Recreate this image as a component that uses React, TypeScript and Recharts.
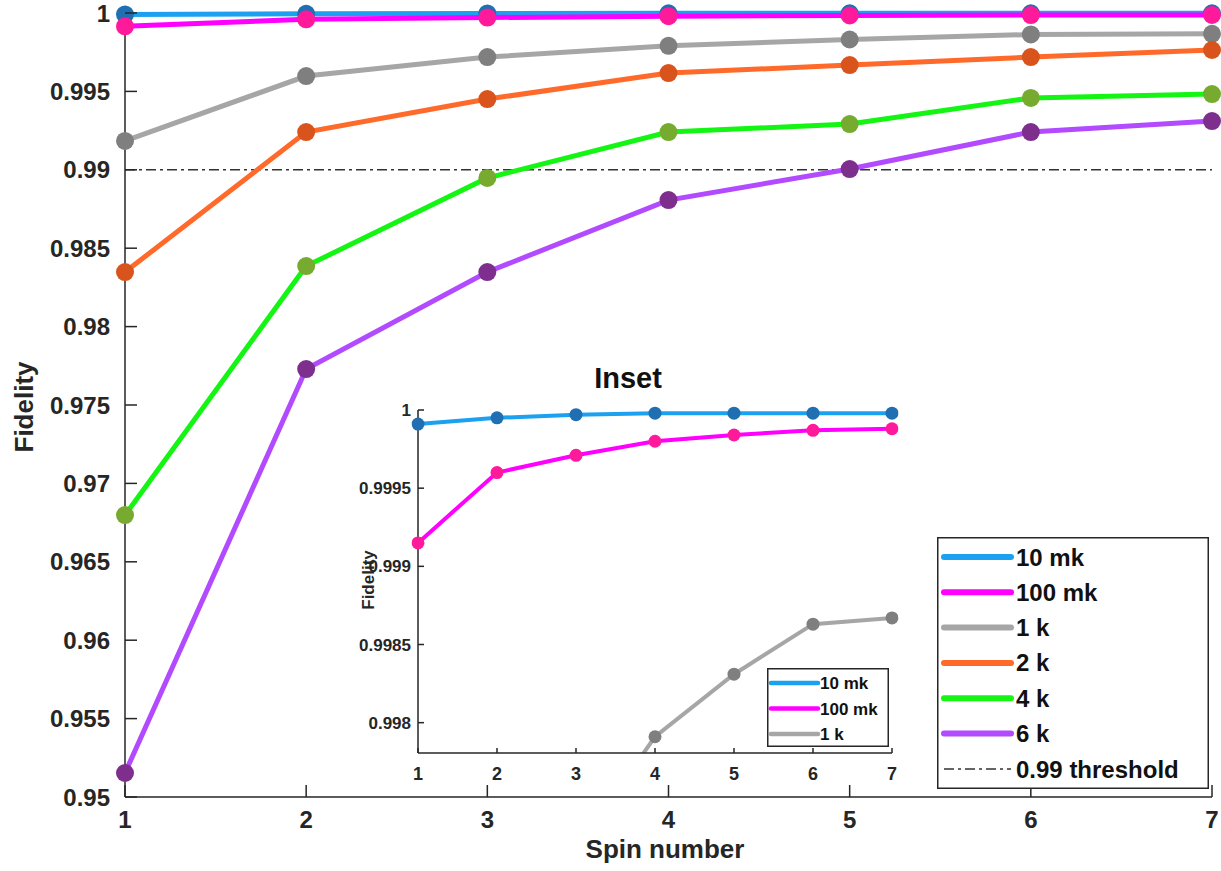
import React from 'react';
import { LineChart, Line, XAxis, YAxis, ReferenceLine, Legend } from 'recharts';

// ---- data ----
const spins = [1, 2, 3, 4, 5, 6, 7];
const fid10mK = [0.99991, 0.99995, 0.99997, 0.99998, 0.99998, 0.99998, 0.99998];
const fid100mK = [0.99915, 0.9996, 0.99971, 0.9998, 0.99984, 0.99987, 0.99988];
const fid1K = [0.99184, 0.99598, 0.99719, 0.99791, 0.99831, 0.99863, 0.99867];
const fid2K = [0.98348, 0.99241, 0.99451, 0.99617, 0.99668, 0.99719, 0.99764];
const fid4K = [0.96798, 0.98386, 0.98948, 0.99241, 0.99292, 0.99458, 0.99483];
const fid6K = [0.95153, 0.97729, 0.98348, 0.98807, 0.99005, 0.99241, 0.99311];
const threshold = 0.99;
const mainYTicks = [0.95, 0.955, 0.96, 0.965, 0.97, 0.975, 0.98, 0.985, 0.99, 0.995, 1];
const insetYTicks = [0.998, 0.9985, 0.999, 0.9995, 1];
const seriesKeys = ['k10mK', 'k100mK', 'k1K', 'k2K', 'k4K', 'k6K'];
const seriesNames = ['10 mk', '100 mk', '1 k', '2 k', '4 k', '6 k'];
const thresholdName = '0.99 threshold';
const lineColors = ['#1ba1ef', '#ff00ff', '#a6a6a6', '#ff6a2b', '#14f514', '#b24bff'];
const markerColors = ['#1f6fb2', '#ff1a9c', '#7f7f7f', '#d9541c', '#77ab30', '#7e2f8e'];
const seriesValues = [fid10mK, fid100mK, fid1K, fid2K, fid4K, fid6K];

const rows = spins.map((s, i) => {
  const r: any = { spin: s };
  seriesKeys.forEach((k, j) => (r[k] = seriesValues[j][i]));
  return r;
});

const AX = '#262626';
const FONT = '"Liberation Sans", Arial, Helvetica, sans-serif';
const fmt = (v: number) => String(Number(Number(v).toFixed(5)));

function leftTick(len: number, gap: number, fs: number, dy: number) {
  return (props: any) => {
    const { x, y, payload } = props;
    return (
      <g>
        <line x1={x} y1={y} x2={x + len} y2={y} stroke={AX} strokeWidth={1.5} />
        <text x={x - gap} y={y + dy} textAnchor="end" fontSize={fs} fontWeight={700} fontFamily={FONT} fill={AX}>
          {fmt(payload.value)}
        </text>
      </g>
    );
  };
}
function rightTick(len: number) {
  return (props: any) => {
    const { x, y } = props;
    return <line x1={x} y1={y} x2={x - len} y2={y} stroke={AX} strokeWidth={1.5} />;
  };
}
function bottomTick(len: number, dy: number, fs: number) {
  return (props: any) => {
    const { x, y, payload } = props;
    return (
      <g>
        <line x1={x} y1={y} x2={x} y2={y - len} stroke={AX} strokeWidth={1.5} />
        <text x={x} y={y + dy} textAnchor="middle" fontSize={fs} fontWeight={700} fontFamily={FONT} fill={AX}>
          {fmt(payload.value)}
        </text>
      </g>
    );
  };
}
function topTick(len: number) {
  return (props: any) => {
    const { x, y } = props;
    return <line x1={x} y1={y} x2={x} y2={y + len} stroke={AX} strokeWidth={1.5} />;
  };
}

const MainLegend = () => (
  <svg width={272} height={252} style={{ display: 'block' }}>
    <rect x={0.75} y={0.75} width={270.5} height={250.5} fill="#fff" stroke={AX} strokeWidth={1.5} />
    {seriesNames.map((n, i) => {
      const y = 20 + i * 35.3;
      return (
        <g key={n}>
          <line x1={7} x2={74} y1={y} y2={y} stroke={lineColors[i]} strokeWidth={6} strokeLinecap="round" />
          <text x={79} y={y + 8.5} fontSize={24} fontWeight={700} fontFamily={FONT} fill="#111">{n}</text>
        </g>
      );
    })}
    <line x1={7} x2={74} y1={232} y2={232} stroke="#333" strokeWidth={1.5} strokeDasharray="10 4 3 4" />
    <text x={79} y={240.5} fontSize={24} fontWeight={700} fontFamily={FONT} fill="#111">{thresholdName}</text>
  </svg>
);

const InsetLegend = () => (
  <svg width={122} height={79} style={{ display: 'block' }}>
    <rect x={0.75} y={0.75} width={120.5} height={77.5} fill="#fff" stroke={AX} strokeWidth={1.5} />
    {seriesNames.slice(0, 3).map((n, i) => {
      const y = 15 + i * 25.5;
      return (
        <g key={n}>
          <line x1={4} x2={51} y1={y} y2={y} stroke={lineColors[i]} strokeWidth={4.5} strokeLinecap="round" />
          <text x={53} y={y + 6} fontSize={17} fontWeight={700} fontFamily={FONT} fill="#111">{n}</text>
        </g>
      );
    })}
  </svg>
);

export default function App() {
  return (
    <div style={{ position: 'absolute', left: 0, top: 0, width: 1221, height: 871, background: '#fff' }}>
      <div style={{ position: 'absolute', left: 0, top: 0 }}>
        <LineChart width={1221} height={871} data={rows} margin={{ top: 13, right: 9, bottom: 0, left: 0 }}>
          <XAxis
            dataKey="spin"
            type="number"
            domain={[1, 7]}
            ticks={spins}
            interval={0}
            height={74}
            tickSize={0}
            tickMargin={0}
            tickLine={false}
            axisLine={{ stroke: AX, strokeWidth: 1.5 }}
            tick={bottomTick(12, 31, 24)}
          />
          <XAxis
            xAxisId="top"
            orientation="top"
            dataKey="spin"
            type="number"
            domain={[1, 7]}
            ticks={spins}
            interval={0}
            height={0}
            tickSize={0}
            tickMargin={0}
            tickLine={false}
            axisLine={{ stroke: AX, strokeWidth: 1.5 }}
            tick={topTick(12)}
          />
          <YAxis
            type="number"
            domain={[0.95, 1]}
            ticks={mainYTicks}
            interval={0}
            width={125}
            tickSize={0}
            tickMargin={0}
            tickLine={false}
            axisLine={{ stroke: AX, strokeWidth: 1.5 }}
            tick={leftTick(12, 15, 24, 8.5)}
          />
          <YAxis
            yAxisId="right"
            orientation="right"
            type="number"
            domain={[0.95, 1]}
            ticks={mainYTicks}
            interval={0}
            width={0}
            tickSize={0}
            tickMargin={0}
            tickLine={false}
            axisLine={{ stroke: AX, strokeWidth: 1.5 }}
            tick={rightTick(12)}
          />
          <ReferenceLine y={threshold} stroke="#333" strokeWidth={1.5} strokeDasharray="10 4 3 4" ifOverflow="visible" />
          {seriesKeys.map((k, i) => (
            <Line
              key={k}
              dataKey={k}
              name={seriesNames[i]}
              stroke={lineColors[i]}
              strokeWidth={5}
              dot={{ r: 9, fill: markerColors[i], stroke: markerColors[i], strokeWidth: 0 }}
              activeDot={false}
              isAnimationActive={false}
            />
          ))}
          <Legend
            layout="vertical"
            align="center"
            verticalAlign="middle"
            content={MainLegend}
            wrapperStyle={{ left: 937, top: 537, width: 272, height: 252, margin: 0 }}
          />
          <text x={665} y={858} textAnchor="middle" fontSize={26} fontWeight={700} fontFamily={FONT} fill={AX}>
            Spin number
          </text>
          <text
            x={0}
            y={0}
            transform="translate(33,407) rotate(-90)"
            textAnchor="middle"
            fontSize={26}
            fontWeight={700}
            fontFamily={FONT}
            fill={AX}
          >
            Fidelity
          </text>
        </LineChart>
      </div>
      <div style={{ position: 'absolute', left: 330, top: 360 }}>
        <LineChart width={580} height={430} data={rows} margin={{ top: 50, right: 18, bottom: 0, left: 0 }}>
          <XAxis
            dataKey="spin"
            type="number"
            domain={[1, 7]}
            ticks={spins}
            interval={0}
            height={37}
            tickSize={0}
            tickMargin={0}
            tickLine={false}
            axisLine={{ stroke: AX, strokeWidth: 1.5 }}
            tick={bottomTick(5, 27, 18)}
          />
          <XAxis
            xAxisId="top"
            orientation="top"
            dataKey="spin"
            type="number"
            domain={[1, 7]}
            ticks={spins}
            interval={0}
            height={0}
            tickSize={0}
            tickMargin={0}
            tickLine={false}
            axisLine={{ stroke: AX, strokeWidth: 1.5 }}
            tick={topTick(5)}
          />
          <YAxis
            type="number"
            domain={[0.997806, 1]}
            allowDataOverflow
            ticks={insetYTicks}
            interval={0}
            width={88}
            tickSize={0}
            tickMargin={0}
            tickLine={false}
            axisLine={{ stroke: AX, strokeWidth: 1.5 }}
            tick={leftTick(6, 7, 17, 6)}
          />
          <YAxis
            yAxisId="right"
            orientation="right"
            type="number"
            domain={[0.997806, 1]}
            allowDataOverflow
            ticks={insetYTicks}
            interval={0}
            width={0}
            tickSize={0}
            tickMargin={0}
            tickLine={false}
            axisLine={{ stroke: AX, strokeWidth: 1.5 }}
            tick={rightTick(6)}
          />
          {seriesKeys.slice(0, 3).map((k, i) => (
            <Line
              key={k}
              dataKey={k}
              name={seriesNames[i]}
              stroke={lineColors[i]}
              strokeWidth={4}
              dot={{ r: 6.5, fill: markerColors[i], stroke: markerColors[i], strokeWidth: 0, clipDot: false }}
              activeDot={false}
              isAnimationActive={false}
            />
          ))}
          <Legend
            layout="vertical"
            align="center"
            verticalAlign="middle"
            content={InsetLegend}
            wrapperStyle={{ left: 437, top: 308, width: 122, height: 79, margin: 0 }}
          />
          <text x={298} y={28} textAnchor="middle" fontSize={29} fontWeight={700} fontFamily={FONT} fill="#111">
            Inset
          </text>
          <text
            x={0}
            y={0}
            transform="translate(44,220) rotate(-90)"
            textAnchor="middle"
            fontSize={17}
            fontWeight={700}
            fontFamily={FONT}
            fill={AX}
          >
            Fidelity
          </text>
        </LineChart>
      </div>
    </div>
  );
}
